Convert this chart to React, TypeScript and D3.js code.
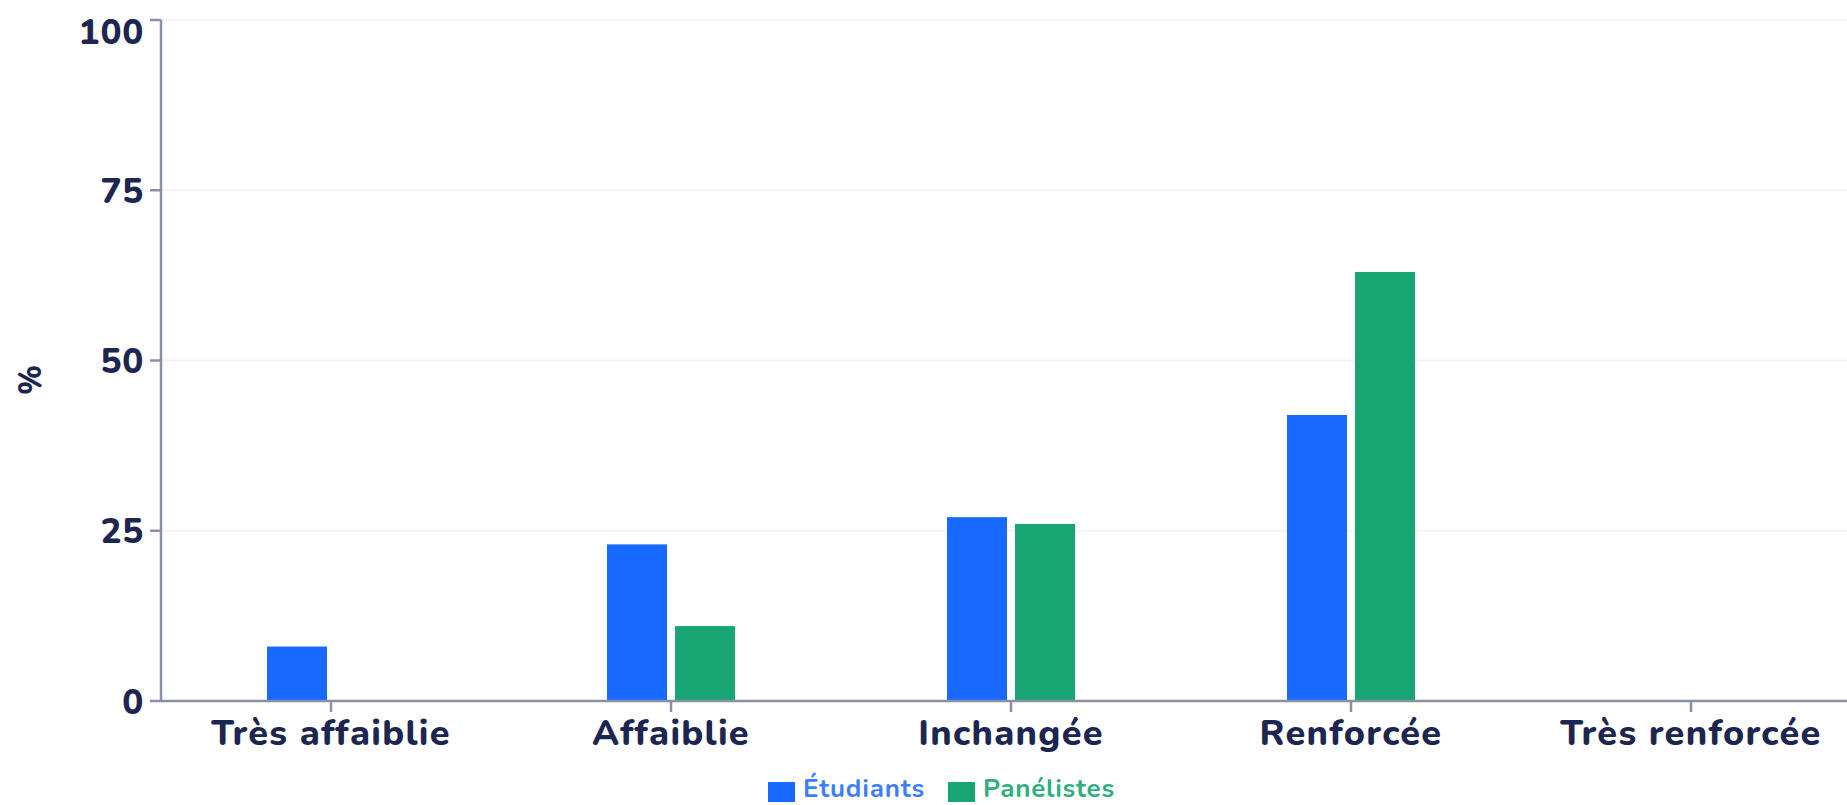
import * as d3 from 'd3';

const categories = ['Très affaiblie', 'Affaiblie', 'Inchangée', 'Renforcée', 'Très renforcée'];
const seriesNames = ['Étudiants', 'Panélistes'];
const etudiants = [8, 23, 27, 42, null];
const panelistes = [null, 11, 26, 63, null];
const yTicks = [0, 25, 50, 75, 100];

const seriesColors = ['#1769FF', '#17A673'];
const legendColors = ['#3D7EFF', '#2FAE7E'];

const W = 1847;
const H = 805;
const left = 161;
const top = 20;
const bottom = 701;
const INK = '#1D2651';
const AXIS = '#8A8FA8';
const FONT = 'Nunito, Lato, sans-serif';

export default function App() {
  const values = [etudiants, panelistes];

  const x0 = d3.scaleBand<string>()
    .domain(categories)
    .range([left, left + 5 * 340])
    .paddingInner(0.6235)
    .paddingOuter(0.3118);

  const x1 = d3.scaleBand<string>()
    .domain(seriesNames)
    .range([0, x0.bandwidth()])
    .paddingInner(0.118);

  const y = d3.scaleLinear().domain([0, 100]).range([bottom, top]);

  return (
    <svg
      width={W}
      height={H}
      style={{ position: 'absolute', left: 0, top: 0, background: '#fff', overflow: 'hidden' }}
      fontFamily={FONT}
    >
      {/* grid */}
      {yTicks.filter(t => t > 0).map(t => (
        <line key={'g' + t} x1={left} x2={W} y1={y(t)} y2={y(t)} stroke="#F4F4F5" strokeWidth={2} />
      ))}

      {/* bars */}
      {categories.map((c, i) => (
        <g key={c} transform={`translate(${x0(c)},0)`}>
          {seriesNames.map((s, k) => {
            const v = values[k][i];
            if (v == null) return null;
            return (
              <rect
                key={s}
                x={x1(s)}
                y={y(v)}
                width={x1.bandwidth()}
                height={y(0) - y(v)}
                fill={seriesColors[k]}
              />
            );
          })}
        </g>
      ))}

      {/* y axis */}
      <line x1={left} x2={left} y1={top} y2={bottom} stroke={AXIS} strokeWidth={2.5} />
      {yTicks.map(t => (
        <g key={'y' + t}>
          <line x1={left - 11} x2={left} y1={y(t)} y2={y(t)} stroke={AXIS} strokeWidth={2.5} />
          <text
            x={left - 17}
            y={Math.max(y(t), 31)}
            dy="0.36em"
            textAnchor="end"
            fontSize={35}
            fontWeight={800}
            letterSpacing={0.8}
            fill={INK}
          >
            {t}
          </text>
        </g>
      ))}
      <text
        transform="translate(30,380) rotate(-90)"
        textAnchor="middle"
        dy="0.36em"
        fontSize={31}
        fontWeight={800}
        fill={INK}
      >
        %
      </text>

      {/* x axis */}
      <line x1={left} x2={W} y1={bottom} y2={bottom} stroke={AXIS} strokeWidth={2.5} />
      {categories.map(c => {
        const cx = (x0(c) as number) + x0.bandwidth() / 2;
        return (
          <g key={'x' + c}>
            <line x1={cx} x2={cx} y1={bottom} y2={bottom + 11} stroke={AXIS} strokeWidth={2.5} />
            <text
              x={cx}
              y={745}
              textAnchor="middle"
              fontSize={36}
              fontWeight={800}
              letterSpacing={1.3}
              fill={INK}
            >
              {c}
            </text>
          </g>
        );
      })}

      {/* legend */}
      {seriesNames.map((s, k) => {
        const lx = k === 0 ? 768 : 948;
        return (
          <g key={'l' + s}>
            <rect x={lx} y={782} width={27} height={20} fill={seriesColors[k]} />
            <text
              x={lx + 35}
              y={797}
              fontSize={26}
              fontWeight={700}
              letterSpacing={0.8}
              fill={legendColors[k]}
            >
              {s}
            </text>
          </g>
        );
      })}
    </svg>
  );
}
